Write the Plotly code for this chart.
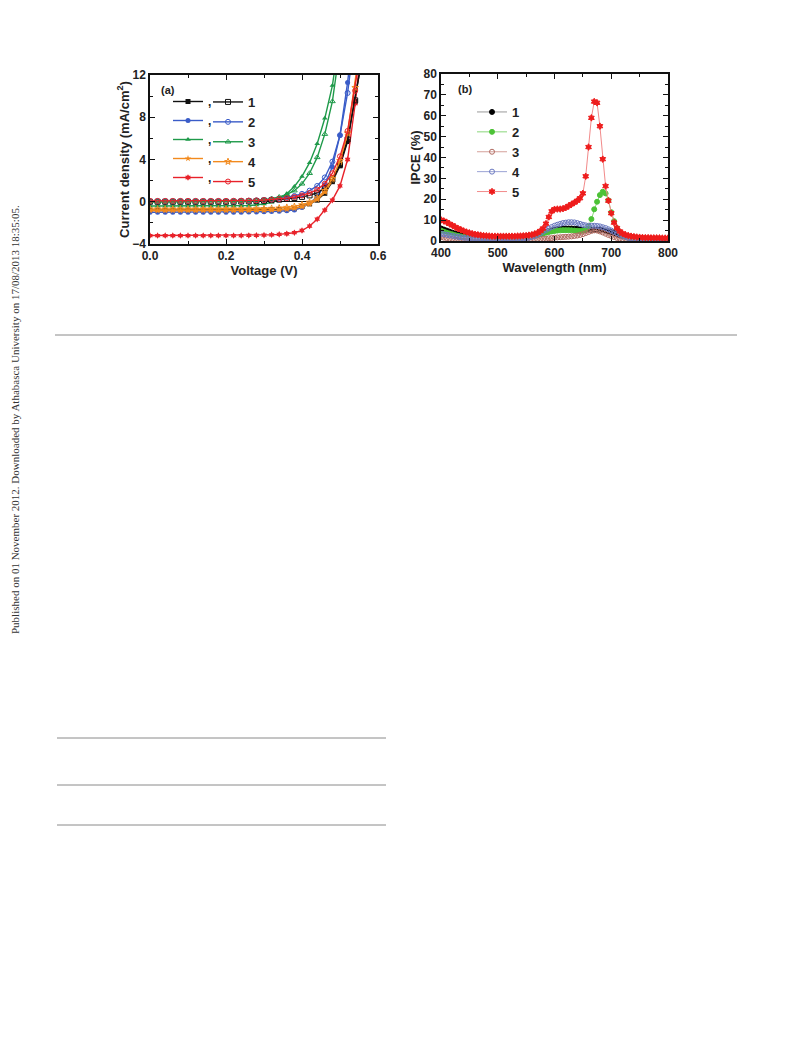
import plotly.graph_objects as go

# ---------------- Panel (a): J-V curves ----------------
voltage = [0.00, 0.02, 0.04, 0.06, 0.08, 0.10, 0.12, 0.14, 0.16, 0.18,
           0.20, 0.22, 0.24, 0.26, 0.28, 0.30, 0.32, 0.34, 0.36, 0.38,
           0.40, 0.42, 0.44, 0.46, 0.48, 0.50, 0.52, 0.54, 0.56]

j1_light = [-0.8, -0.8, -0.8, -0.8, -0.8, -0.8, -0.8, -0.8, -0.8, -0.8,
            -0.8, -0.8, -0.8, -0.8, -0.8, -0.78, -0.76, -0.74, -0.72, -0.65,
            -0.45, -0.2, 0.15, 0.8, 1.9, 3.4, 5.7, 9.5, 14.0]
j1_dark = [0.0, 0.0, 0.0, 0.0, 0.0, 0.0, 0.0, 0.0, 0.0, 0.0,
           0.0, 0.0, 0.02, 0.04, 0.06, 0.1, 0.15, 0.2, 0.28, 0.36,
           0.46, 0.6, 0.85, 1.3, 2.1, 3.5, 5.9, 9.6, 14.0]
j2_light = [-1.0, -1.0, -1.0, -1.0, -1.0, -1.0, -1.0, -1.0, -1.0, -1.0,
            -1.0, -1.0, -1.0, -0.98, -0.97, -0.95, -0.93, -0.9, -0.85, -0.78,
            -0.55, -0.15, 0.5, 1.6, 3.3, 6.3, 11.3, 17.0, 24.0]
j2_dark = [0.05, 0.05, 0.05, 0.05, 0.05, 0.05, 0.05, 0.05, 0.05, 0.05,
           0.05, 0.06, 0.08, 0.1, 0.13, 0.17, 0.22, 0.3, 0.4, 0.55,
           0.75, 1.05, 1.5, 2.3, 3.8, 6.3, 10.3, 16.0, 23.0]
j3_light = [-0.4, -0.4, -0.4, -0.4, -0.4, -0.4, -0.4, -0.4, -0.4, -0.4,
            -0.4, -0.4, -0.38, -0.35, -0.3, -0.22, -0.05, 0.25, 0.75, 1.45,
            2.4, 3.7, 5.5, 7.9, 11.0, 15.0, 20.0, 26.0, 33.0]
j3_dark = [0.0, 0.0, 0.0, 0.0, 0.0, 0.0, 0.0, 0.0, 0.0, 0.0,
           0.0, 0.02, 0.05, 0.08, 0.12, 0.2, 0.3, 0.45, 0.7, 1.05,
           1.7, 2.7, 4.2, 6.4, 9.5, 13.5, 19.0, 25.0, 32.0]
j4_light = [-0.85, -0.85, -0.85, -0.85, -0.85, -0.85, -0.85, -0.85, -0.85, -0.85,
            -0.85, -0.85, -0.85, -0.84, -0.83, -0.82, -0.8, -0.77, -0.72, -0.64,
            -0.48, -0.22, 0.2, 0.9, 2.0, 3.7, 6.3, 10.5, 16.0]
j4_dark = [-0.7, -0.7, -0.7, -0.7, -0.7, -0.7, -0.7, -0.7, -0.7, -0.7,
           -0.7, -0.7, -0.7, -0.69, -0.68, -0.66, -0.63, -0.6, -0.54, -0.45,
           -0.3, -0.05, 0.35, 1.05, 2.2, 3.9, 6.5, 10.8, 16.5]
j5_light = [-3.2, -3.2, -3.2, -3.2, -3.2, -3.2, -3.2, -3.2, -3.2, -3.2,
            -3.2, -3.2, -3.2, -3.19, -3.18, -3.16, -3.13, -3.09, -3.03, -2.93,
            -2.72, -2.3, -1.65, -0.8, 0.15, 1.5, 4.0, 9.3, 16.0]
j5_dark = [0.08, 0.08, 0.08, 0.08, 0.08, 0.08, 0.08, 0.08, 0.08, 0.08,
           0.08, 0.09, 0.1, 0.11, 0.13, 0.16, 0.2, 0.26, 0.34, 0.45,
           0.6, 0.82, 1.15, 1.7, 2.7, 4.3, 6.7, 10.5, 15.5]

labels = ["1", "2", "3", "4", "5"]

# ---------------- Panel (b): IPCE spectra ----------------
wavelength = [400, 405, 410, 415, 420, 425, 430, 435, 440, 445,
              450, 455, 460, 465, 470, 475, 480, 485, 490, 495,
              500, 505, 510, 515, 520, 525, 530, 535, 540, 545,
              550, 555, 560, 565, 570, 575, 580, 585, 590, 595,
              600, 605, 610, 615, 620, 625, 630, 635, 640, 645,
              650, 655, 660, 665, 670, 675, 680, 685, 690, 695,
              700, 705, 710, 715, 720, 725, 730, 735, 740, 745,
              750, 755, 760, 765, 770, 775, 780, 785, 790, 795,
              800]

ipce1 = [6.0, 5.5, 5.0, 4.5, 4.0, 3.6, 3.2, 2.9, 2.6, 2.4,
         2.2, 2.1, 2.0, 1.9, 1.9, 1.8, 1.8, 1.8, 1.8, 1.8,
         1.8, 1.8, 1.8, 1.8, 1.8, 1.8, 1.9, 1.9, 2.0, 2.1,
         2.2, 2.4, 2.6, 2.9, 3.2, 3.6, 4.0, 4.4, 4.8, 5.1,
         5.4, 5.6, 5.8, 5.9, 6.0, 6.0, 6.0, 5.9, 5.8, 5.6,
         5.4, 5.3, 5.3, 5.4, 5.5, 5.5, 5.4, 5.2, 4.9, 4.6,
         4.2, 3.8, 3.3, 2.8, 2.3, 1.9, 1.6, 1.4, 1.2, 1.1,
         1.0, 1.0, 1.0, 1.0, 1.0, 1.0, 1.0, 1.0, 1.0, 1.0,
         1.0]
ipce2 = [5.0, 4.5, 4.0, 3.6, 3.2, 2.8, 2.5, 2.2, 2.0, 1.8,
         1.7, 1.6, 1.5, 1.5, 1.5, 1.5, 1.5, 1.5, 1.5, 1.5,
         1.5, 1.5, 1.5, 1.5, 1.5, 1.5, 1.5, 1.5, 1.6, 1.7,
         1.8, 2.0, 2.2, 2.5, 2.8, 3.2, 3.6, 4.0, 4.3, 4.6,
         4.8, 5.0, 5.1, 5.2, 5.2, 5.2, 5.1, 5.0, 4.9, 4.8,
         4.9, 5.5, 7.0, 10.5, 15.2, 18.8, 22.0, 23.6, 22.8, 19.5,
         13.8, 9.5, 6.2, 4.2, 2.8, 2.0, 1.5, 1.3, 1.1, 1.0,
         1.0, 1.0, 1.0, 1.0, 1.0, 1.0, 1.0, 1.0, 1.0, 1.0,
         1.0]
ipce3 = [1.8, 1.6, 1.4, 1.2, 1.1, 1.0, 0.9, 0.8, 0.8, 0.7,
         0.7, 0.7, 0.7, 0.7, 0.7, 0.7, 0.7, 0.7, 0.7, 0.7,
         0.7, 0.7, 0.7, 0.7, 0.7, 0.7, 0.7, 0.7, 0.7, 0.7,
         0.7, 0.7, 0.7, 0.7, 0.8, 0.9, 1.0, 1.1, 1.3, 1.4,
         1.6, 1.7, 1.8, 1.9, 2.0, 2.1, 2.2, 2.4, 2.6, 2.9,
         3.3, 3.8, 4.3, 4.8, 5.1, 5.0, 4.6, 4.1, 3.5, 2.9,
         2.4, 1.9, 1.5, 1.2, 0.9, 0.7, 0.6, 0.5, 0.5, 0.5,
         0.5, 0.5, 0.5, 0.5, 0.5, 0.5, 0.5, 0.5, 0.5, 0.5,
         0.5]
ipce4 = [3.5, 3.2, 3.0, 2.7, 2.5, 2.2, 2.0, 1.8, 1.6, 1.5,
         1.4, 1.3, 1.3, 1.3, 1.3, 1.3, 1.3, 1.3, 1.3, 1.3,
         1.3, 1.3, 1.3, 1.3, 1.3, 1.3, 1.3, 1.3, 1.3, 1.3,
         1.4, 1.6, 1.9, 2.4, 3.0, 3.7, 4.5, 5.3, 6.0, 6.7,
         7.3, 7.8, 8.2, 8.6, 8.8, 9.0, 9.0, 8.9, 8.6, 8.2,
         7.8, 7.5, 7.3, 7.3, 7.3, 7.2, 7.0, 6.6, 6.2, 5.6,
         5.0, 4.4, 3.8, 3.1, 2.5, 2.0, 1.5, 1.2, 1.0, 0.9,
         0.8, 0.8, 0.8, 0.8, 0.8, 0.8, 0.8, 0.8, 0.8, 0.8,
         0.8]
ipce5 = [10.1, 9.6, 9.0, 8.2, 7.5, 6.7, 6.0, 5.4, 4.8, 4.3,
         3.9, 3.5, 3.2, 3.0, 2.8, 2.6, 2.5, 2.4, 2.3, 2.3,
         2.3, 2.3, 2.3, 2.3, 2.3, 2.3, 2.3, 2.4, 2.4, 2.5,
         2.6, 2.8, 3.0, 3.4, 3.9, 4.8, 6.0, 8.3, 11.5, 14.2,
         15.2, 15.3, 15.3, 15.5, 16.0, 16.8, 17.6, 18.4, 19.3, 20.5,
         22.8, 31.0, 45.0, 59.0, 66.8, 66.2, 55.0, 39.2, 26.3, 19.3,
         13.3, 8.8, 6.2, 4.6, 3.6, 3.0, 2.6, 2.3, 2.1, 1.9,
         1.8, 1.7, 1.6, 1.6, 1.5, 1.5, 1.5, 1.5, 1.4, 1.4,
         1.4]

# The page body has an 8px margin, so the figure is placed at (8, 8).
OFF = 8
W, H = 793 - 2 * OFF, 1039 - 2 * OFF


def px(x):
    return (x - OFF) / W


def py(y):
    return 1 - (y - OFF) / H


FONT = "Arial, Liberation Sans, sans-serif"

fig = go.Figure()

# ---- panel (a) traces ----
a_colors = ["#111111", "#3a5cc8", "#1f9a4a", "#f28a1e", "#e8222a"]
a_filled = ["square", "circle", "triangle-up", "star", "hexagram"]
a_open = ["square-open", "circle-open", "triangle-up-open", "star-open", "circle-open"]
light = [j1_light, j2_light, j3_light, j4_light, j5_light]
dark = [j1_dark, j2_dark, j3_dark, j4_dark, j5_dark]

for i in range(5):
    fig.add_trace(go.Scatter(
        x=voltage, y=light[i], mode="lines+markers", name=",",
        line=dict(color=a_colors[i], width=1.4),
        marker=dict(symbol=a_filled[i], size=5, color=a_colors[i]),
        xaxis="x", yaxis="y", legend="legend", cliponaxis=True))
for i in range(5):
    fig.add_trace(go.Scatter(
        x=voltage, y=dark[i], mode="lines+markers", name=labels[i],
        line=dict(color=a_colors[i], width=1.4),
        marker=dict(symbol=a_open[i], size=5, color=a_colors[i],
                    line=dict(width=1, color=a_colors[i])),
        xaxis="x", yaxis="y", legend="legend2", cliponaxis=True))

# ---- panel (b) traces ----
b_series = [ipce1, ipce2, ipce3, ipce4, ipce5]
b_mcolor = ["#000000", "#4cc236", "#b06a60", "#6a78c0", "#ee1c1c"]
b_lcolor = ["#9a9a9a", "#8ad67a", "#d4a09a", "#9aa2d4", "#f28a8a"]
b_symbol = ["circle", "circle", "circle-open", "circle-open", "hexagram"]
b_size = [5, 5, 5, 5, 5]
for i in range(5):
    fig.add_trace(go.Scatter(
        x=wavelength, y=b_series[i], mode="lines+markers", name=labels[i],
        line=dict(color=b_lcolor[i], width=1),
        marker=dict(symbol=b_symbol[i], size=b_size[i], color=b_mcolor[i],
                    line=dict(width=1, color=b_mcolor[i])),
        xaxis="x2", yaxis="y2", legend="legend3", cliponaxis=True))

tickfont = dict(family=FONT, size=12, color="#222222", weight="bold")
titlefont = dict(family=FONT, size=13, color="#222222", weight="bold")


def ax(**kw):
    base = dict(showline=True, linecolor="#111111", linewidth=1.5, mirror="ticks",
                ticks="inside", ticklen=5, tickwidth=1.3, tickcolor="#111111",
                showgrid=False, zeroline=False, tickfont=tickfont, automargin=False)
    base.update(kw)
    return base


fig.update_layout(
    width=W, height=H, margin=dict(l=0, r=0, t=0, b=0),
    paper_bgcolor="white", plot_bgcolor="white",
    font=dict(family=FONT, color="#222222"),
    xaxis=ax(domain=[px(150), px(378)], range=[0, 0.6], tickvals=[0, 0.2, 0.4, 0.6],
             ticktext=["0.0", "0.2", "0.4", "0.6"],
             minor=dict(ticks="inside", ticklen=3, dtick=0.1, tickcolor="#111111"),
             title=dict(text="Voltage (V)", font=titlefont, standoff=0), anchor="y"),
    yaxis=ax(domain=[py(244), py(75)], range=[-4, 12], tickvals=[-4, 0, 4, 8, 12],
             minor=dict(ticks="inside", ticklen=3, dtick=2, tickcolor="#111111"),
             zeroline=True, zerolinecolor="#111111", zerolinewidth=1.2,
             title=dict(text="Current density (mA/cm<sup>2</sup>)", font=titlefont, standoff=0),
             anchor="x"),
    xaxis2=ax(domain=[px(441), px(668)], range=[400, 800], dtick=100,
              minor=dict(ticks="inside", ticklen=3, dtick=50, tickcolor="#111111"),
              title=dict(text="Wavelength (nm)", font=titlefont, standoff=4), anchor="y2"),
    yaxis2=ax(domain=[py(241), py(74)], range=[0, 80], dtick=10,
              minor=dict(ticks="inside", ticklen=3, dtick=5, tickcolor="#111111"),
              title=dict(text="IPCE (%)", font=titlefont, standoff=0), anchor="x2"),
    legend=dict(x=px(168), y=py(87), xanchor="left", yanchor="top",
                bgcolor="rgba(0,0,0,0)", borderwidth=0,
                font=dict(family=FONT, size=12, color="#222222", weight="bold")),
    legend2=dict(x=px(208), y=py(87), xanchor="left", yanchor="top",
                 bgcolor="rgba(0,0,0,0)", borderwidth=0,
                 font=dict(family=FONT, size=13, color="#222222", weight="bold")),
    legend3=dict(x=px(472), y=py(97), xanchor="left", yanchor="top",
                 bgcolor="rgba(0,0,0,0)", borderwidth=0,
                 font=dict(family=FONT, size=13, color="#222222", weight="bold")),
    showlegend=True,
)

fig.add_annotation(text="(a)", x=px(168), y=py(90), xref="paper", yref="paper",
                   showarrow=False, xanchor="center", yanchor="middle",
                   font=dict(family=FONT, size=11, color="#222222", weight="bold"))
fig.add_annotation(text="(b)", x=px(465), y=py(89), xref="paper", yref="paper",
                   showarrow=False, xanchor="center", yanchor="middle",
                   font=dict(family=FONT, size=11, color="#222222", weight="bold"))

fig.add_annotation(
    text="Published on 01 November 2012. Downloaded by Athabasca University on 17/08/2013 18:35:05.",
    x=px(15), y=py(420), xref="paper", yref="paper", showarrow=False, textangle=-90,
    xanchor="center", yanchor="middle",
    font=dict(family="Liberation Serif, Times New Roman, serif", size=11, color="#333333"))

for (x0, x1, yy) in [(55, 737, 335), (57, 386, 738), (57, 386, 785), (57, 386, 825)]:
    fig.add_shape(type="line", xref="paper", yref="paper",
                  x0=px(x0), x1=px(x1), y0=py(yy), y1=py(yy),
                  line=dict(color="#8a8a8a", width=1))

fig.write_html("out.html")
